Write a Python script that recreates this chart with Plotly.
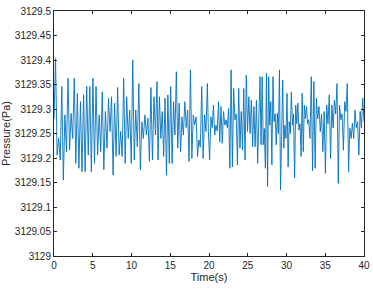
import plotly.graph_objects as go

# Pressure samples, grouped by time window
seg1_pa = [  # 0.00 - 6.63 s
    3129.281, 3129.403, 3129.206, 3129.240, 3129.196, 3129.346, 3129.155, 3129.288, 3129.213, 3129.363,
    3129.216, 3129.291, 3129.240, 3129.363, 3129.189, 3129.332, 3129.179, 3129.315, 3129.172, 3129.329,
    3129.172, 3129.346, 3129.206, 3129.346, 3129.172, 3129.363, 3129.189, 3129.346, 3129.206, 3129.288,
    3129.213, 3129.335, 3129.176, 3129.295,
]
seg2_pa = [  # 6.84 - 13.29 s
    3129.220, 3129.322, 3129.254, 3129.325, 3129.165, 3129.312, 3129.203, 3129.344, 3129.206, 3129.254,
    3129.203, 3129.363, 3129.189, 3129.325, 3129.240, 3129.298, 3129.189, 3129.400, 3129.196, 3129.298,
    3129.223, 3129.352, 3129.176, 3129.274, 3129.240, 3129.288, 3129.247, 3129.281, 3129.193, 3129.344,
    3129.196, 3129.325, 3129.247, 3129.356,
]
seg3_pa = [  # 13.42 - 19.79 s
    3129.196, 3129.325, 3129.240, 3129.295, 3129.203, 3129.322, 3129.165, 3129.329, 3129.189, 3129.346,
    3129.189, 3129.315, 3129.247, 3129.376, 3129.220, 3129.312, 3129.213, 3129.284, 3129.247, 3129.315,
    3129.262, 3129.298, 3129.193, 3129.380, 3129.199, 3129.288, 3129.268, 3129.284, 3129.203, 3129.237,
    3129.222, 3129.346, 3129.199, 3129.288, 3129.254, 3129.352,
]
seg4_pa = [  # 19.92 - 26.28 s
    3129.254, 3129.196, 3129.284, 3129.262, 3129.308, 3129.247, 3129.267, 3129.255, 3129.315, 3129.233,
    3129.305, 3129.230, 3129.295, 3129.267, 3129.278, 3129.262, 3129.301, 3129.179, 3129.380, 3129.182,
    3129.342, 3129.278, 3129.290, 3129.186, 3129.342, 3129.220, 3129.295, 3129.216, 3129.342, 3129.196,
    3129.369, 3129.254, 3129.325, 3129.250, 3129.318, 3129.223, 3129.305, 3129.223, 3129.318, 3129.189,
]
seg5_pa = [  # 26.58 - 32.86 s
    3129.366, 3129.227, 3129.366, 3129.227, 3129.260, 3129.179, 3129.373, 3129.142, 3129.366, 3129.267,
    3129.315, 3129.186, 3129.366, 3129.274, 3129.290, 3129.227, 3129.291, 3129.250, 3129.380, 3129.135,
    3129.244, 3129.359, 3129.220, 3129.267, 3129.240, 3129.332, 3129.182, 3129.274, 3129.250, 3129.335,
    3129.267, 3129.290, 3129.159, 3129.308, 3129.270, 3129.312, 3129.257, 3129.270, 3129.203, 3129.332,
    3129.213, 3129.308, 3129.280, 3129.305, 3129.270, 3129.278,
]
seg6_pa = [  # 33.03 - 40.00 s
    3129.240, 3129.366, 3129.174, 3129.356, 3129.179, 3129.322, 3129.280, 3129.305, 3129.254, 3129.290,
    3129.213, 3129.295, 3129.169, 3129.308, 3129.270, 3129.329, 3129.199, 3129.308, 3129.261, 3129.318,
    3129.290, 3129.352, 3129.148, 3129.308, 3129.278, 3129.290, 3129.216, 3129.315, 3129.295, 3129.352,
    3129.172, 3129.261, 3129.240, 3129.271, 3129.240, 3129.298, 3129.262, 3129.274, 3129.206, 3129.295,
    3129.261, 3129.322, 3129.274,
]
segments_pa = [seg1_pa, seg2_pa, seg3_pa, seg4_pa, seg5_pa, seg6_pa]
seg_start_s = [0.00, 6.84, 13.42, 19.92, 26.58, 33.03]
seg_end_s = [6.63, 13.29, 19.79, 26.28, 32.86, 40.00]

time_s, pressure_pa = [], []
for vals, t0, t1 in zip(segments_pa, seg_start_s, seg_end_s):
    m = len(vals)
    for i, v in enumerate(vals):
        time_s.append(t0 + (t1 - t0) * i / (m - 1))
        pressure_pa.append(v)

x_ticks = [0, 5, 10, 15, 20, 25, 30, 35, 40]
y_ticks = [3129, 3129.05, 3129.1, 3129.15, 3129.2, 3129.25, 3129.3, 3129.35, 3129.4, 3129.45, 3129.5]
y_tick_labels = ["3129", "3129.05", "3129.1", "3129.15", "3129.2", "3129.25",
                 "3129.3", "3129.35", "3129.4", "3129.45", "3129.5"]

fig = go.Figure()
fig.add_trace(go.Scatter(x=time_s, y=pressure_pa, mode="lines",
                         line=dict(color="#0072BD", width=0.9)))

axis_common = dict(
    showline=True, linecolor="#262626", linewidth=1, mirror="allticks",
    ticks="inside", ticklen=3, tickwidth=1, tickcolor="#262626",
    showgrid=False, zeroline=False, automargin=False,
    tickfont=dict(family="Liberation Sans, Arial", size=10, color="#262626"),
)

fig.update_layout(
    width=373, height=289,
    margin=dict(l=54, r=9, t=11, b=33),
    paper_bgcolor="white", plot_bgcolor="white",
    showlegend=False,
    xaxis=dict(range=[0, 40], tickvals=x_ticks,
               title=dict(text="Time(s)", standoff=2,
                          font=dict(family="Liberation Sans, Arial", size=11, color="#262626")),
               **axis_common),
    yaxis=dict(range=[3129, 3129.5], tickvals=y_ticks, ticktext=y_tick_labels,
               title=dict(text="Pressure(Pa)", standoff=4,
                          font=dict(family="Liberation Sans, Arial", size=11, color="#262626")),
               **axis_common),
)

fig.write_html("out.html", config={"displayModeBar": False},
               post_script="document.body.style.margin='0';document.body.style.overflow='hidden';")
